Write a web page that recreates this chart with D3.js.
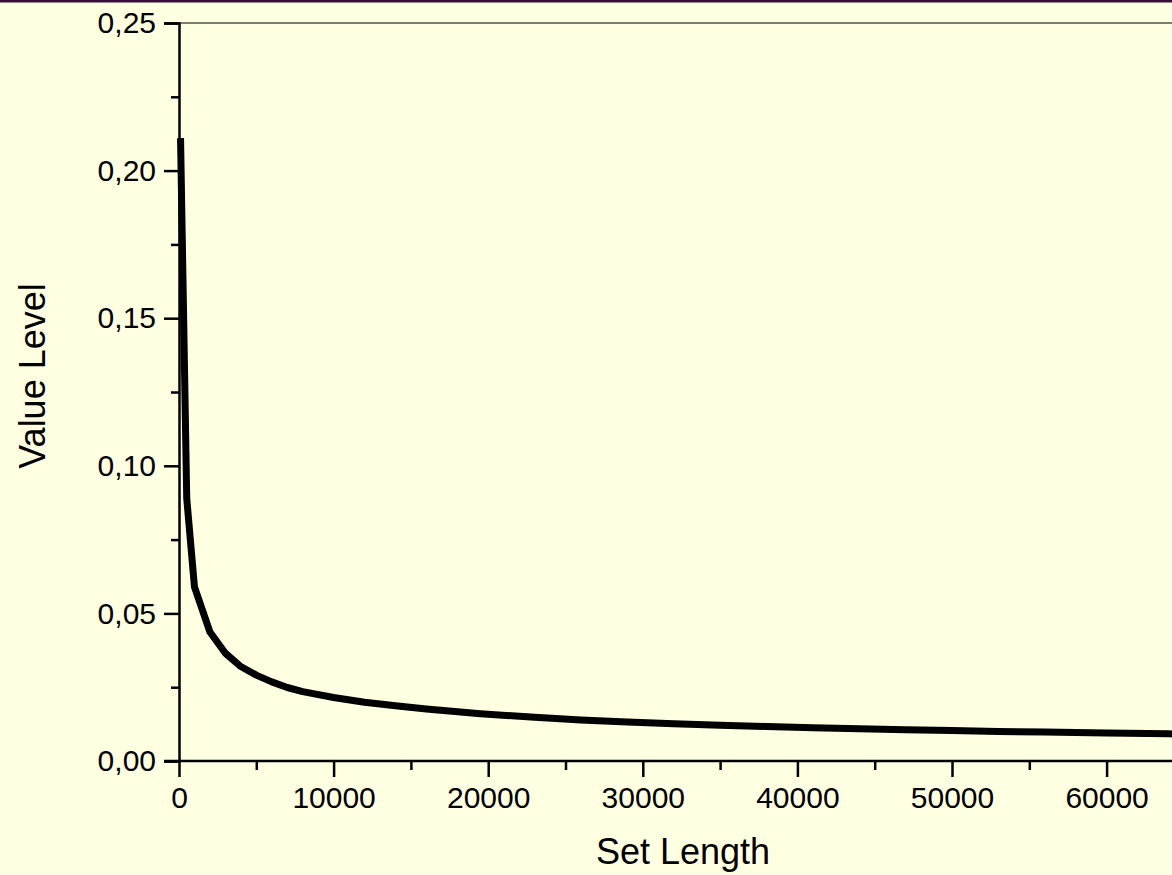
<!DOCTYPE html>
<html>
<head>
<meta charset="utf-8">
<script src="https://cdn.jsdelivr.net/npm/d3@7"></script>
<style>
  body { margin: 0; background: #ffffe1; }
  svg { display: block; }
  text { font-family: "Liberation Sans", Arial, sans-serif; fill: #000; }
</style>
</head>
<body>
<div id="chart"></div>
<script>
// values
const setLength = [100, 500, 1000, 2000, 3000, 4000, 5000, 6000, 7000, 8000, 10000, 12000, 14000, 16000, 19500,
  23000, 26000, 29000, 32000, 35000, 38000, 41000, 44000, 47000, 50000, 53000, 56000, 60000, 64000, 66000];
const valueLevel = [0.211, 0.089, 0.059, 0.0437, 0.0365, 0.032, 0.0291, 0.0268, 0.0249, 0.0235, 0.0215, 0.0199, 0.0187, 0.0176, 0.016,
  0.0148, 0.0139, 0.0132, 0.0126, 0.0121, 0.0117, 0.0113, 0.0109, 0.0106, 0.0103, 0.01, 0.0098, 0.0095, 0.0092, 0.0091];
const xTicks = [0, 10000, 20000, 30000, 40000, 50000, 60000];
const yTicks = [0, 0.05, 0.10, 0.15, 0.20, 0.25];

const width = 1172, height = 875;
const margin = {top: 23, left: 179, bottom: 114};
const labelFont = 30, titleFont = 36;

const svg = d3.select("#chart").append("svg")
  .attr("width", width)
  .attr("height", height);

svg.append("rect").attr("width", width).attr("height", height).attr("fill", "#ffffe1");
svg.append("rect").attr("width", width).attr("height", 2.5).attr("fill", "#3a0c3a");

const x = d3.scaleLinear().domain([0, 70000]).range([margin.left, margin.left + 70000 * 0.01546]);
const y = d3.scaleLinear().domain([0, 0.25]).range([height - margin.bottom, margin.top]);

// top frame line
svg.append("line")
  .attr("x1", x(0)).attr("x2", width)
  .attr("y1", y(0.25)).attr("y2", y(0.25))
  .attr("stroke", "#7d7f6c").attr("stroke-width", 2);

// y axis
const yAxis = svg.append("g").attr("transform", `translate(${x(0)},0)`);
yAxis.call(d3.axisLeft(y).tickValues(yTicks).tickSize(15).tickPadding(8)
    .tickFormat(d => d3.format(".2f")(d).replace(".", ",")))
  .call(g => g.select(".domain").attr("stroke-width", 2.5))
  .call(g => g.selectAll(".tick line").attr("stroke-width", 2.5))
  .call(g => g.selectAll(".tick text").attr("font-size", labelFont).attr("font-family", "Liberation Sans, Arial, sans-serif"));
yAxis.append("g")
  .call(d3.axisLeft(y).tickValues(d3.range(0.025, 0.25, 0.05)).tickSize(8).tickFormat(""))
  .call(g => g.select(".domain").remove())
  .call(g => g.selectAll(".tick line").attr("stroke-width", 2.5));

// x axis
const xAxis = svg.append("g").attr("transform", `translate(0,${y(0)})`);
xAxis.call(d3.axisBottom(x).tickValues(xTicks).tickSize(16).tickPadding(10).tickSizeOuter(0).tickFormat(d3.format("d")))
  .call(g => g.select(".domain").attr("stroke-width", 2.5).attr("d", `M${x(0) - 15},0H${width}`))
  .call(g => g.selectAll(".tick line").attr("stroke-width", 2.5))
  .call(g => g.selectAll(".tick text").attr("font-size", labelFont).attr("font-family", "Liberation Sans, Arial, sans-serif"));
xAxis.append("g")
  .call(d3.axisBottom(x).tickValues(d3.range(5000, 70000, 10000)).tickSize(9).tickFormat(""))
  .call(g => g.select(".domain").remove())
  .call(g => g.selectAll(".tick line").attr("stroke-width", 2.5));

// curve
const pts = setLength.map((d, i) => [d, valueLevel[i]]);
svg.append("path")
  .datum(pts)
  .attr("fill", "none")
  .attr("stroke", "#000")
  .attr("stroke-width", 7)
  .attr("stroke-linejoin", "round")
  .attr("d", d3.line().x(d => x(d[0])).y(d => y(d[1])));

// axis titles
svg.append("text")
  .attr("x", 683).attr("y", 864)
  .attr("text-anchor", "middle")
  .attr("font-size", titleFont)
  .text("Set Length");
svg.append("text")
  .attr("transform", "translate(45,376) rotate(-90)")
  .attr("text-anchor", "middle")
  .attr("font-size", titleFont)
  .text("Value Level");
</script>
</body>
</html>
